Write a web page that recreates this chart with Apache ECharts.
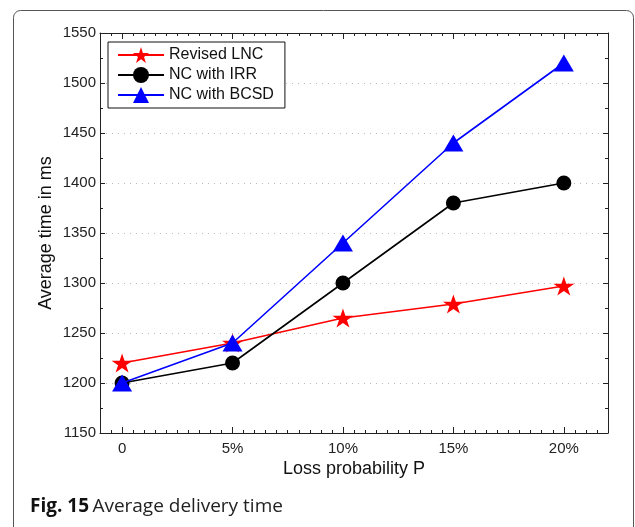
<!DOCTYPE html>
<html>
<head>
<meta charset="utf-8">
<script src="https://cdn.jsdelivr.net/npm/echarts@6/dist/echarts.min.js"></script>
<style>html,body{margin:0;padding:0;background:#fff;}#c{width:635px;height:527px;}</style>
</head>
<body>
<div id="c"></div>
<script>
const xValues = [0, 5, 10, 15, 20];
const xTickLabels = ['0', '5%', '10%', '15%', '20%'];
const seriesNames = ['Revised LNC', 'NC with IRR', 'NC with BCSD'];
const revisedLNC = [1220, 1240, 1265, 1279, 1297];
const ncIRR = [1200, 1220, 1300, 1380, 1400];
const ncBCSD = [1200, 1240, 1340, 1440, 1520];

const starPath = 'path://M100 0 L122.45 69.1 L195.1 69.1 L136.3 111.8 L158.8 180.9 L100 138.2 L41.2 180.9 L63.7 111.8 L4.9 69.1 L77.55 69.1 Z';
const font = 'Liberation Sans, Helvetica, Arial, sans-serif';
const axisColor = '#222';

function pairs(vals) { return xValues.map((x, i) => [x, vals[i]]); }
function labelFor(v) { const i = xValues.indexOf(v); return i >= 0 ? xTickLabels[i] : ''; }

const chart = echarts.init(document.getElementById('c'), null, { renderer: 'canvas' });
const baseX = {
  type: 'value', min: -1, max: 22, gridIndex: 0,
  splitLine: { show: false },
  axisLine: { show: true, onZero: false, lineStyle: { color: axisColor, width: 1 } }
};
const option = {
  backgroundColor: '#fff',
  animation: false,
  grid: { left: 100, right: 27, top: 33, bottom: 94, containLabel: false },
  legend: {
    orient: 'vertical', left: 108, top: 42,
    data: seriesNames,
    itemWidth: 46, itemHeight: 20, itemGap: 4,
    padding: [5, 11, 5, 9],
    borderColor: '#111', borderWidth: 1, backgroundColor: '#fff',
    textStyle: { fontFamily: font, fontSize: 16, color: '#111' }
  },
  xAxis: [
    Object.assign({}, baseX, {
      position: 'bottom', interval: 0.5,
      axisTick: { show: true, inside: true, length: 3, lineStyle: { color: axisColor } },
      axisLabel: { show: true, formatter: v => labelFor(v), fontFamily: font, fontSize: 15, color: '#222', margin: 8 },
      name: 'Loss probability P', nameLocation: 'middle', nameGap: 27, nameMoveOverlap: false,
      nameTextStyle: { fontFamily: font, fontSize: 18, color: '#111' }
    }),
    Object.assign({}, baseX, {
      position: 'top', interval: 0.5,
      axisTick: { show: true, inside: true, length: 3, lineStyle: { color: axisColor } },
      axisLabel: { show: false }
    }),
    Object.assign({}, baseX, {
      position: 'bottom', axisLine: { show: false, onZero: false },
      axisTick: { show: true, inside: true, length: 6, customValues: xValues, lineStyle: { color: axisColor } },
      axisLabel: { show: false, customValues: xValues }
    }),
    Object.assign({}, baseX, {
      position: 'top', axisLine: { show: false, onZero: false },
      axisTick: { show: true, inside: true, length: 6, customValues: xValues, lineStyle: { color: axisColor } },
      axisLabel: { show: false, customValues: xValues }
    })
  ],
  yAxis: [
    {
      type: 'value', min: 1150, max: 1550, interval: 50, position: 'left',
      axisLine: { show: true, onZero: false, lineStyle: { color: axisColor } },
      axisTick: { show: true, inside: true, length: 5, lineStyle: { color: axisColor } },
      minorTick: { show: true, splitNumber: 2, length: 3, lineStyle: { color: axisColor } },
      axisLabel: { formatter: v => String(v), fontFamily: font, fontSize: 15, color: '#222', margin: 4 },
      splitLine: { show: true, lineStyle: { color: '#bbb', type: [1, 5], width: 1 } },
      name: 'Average time in ms', nameLocation: 'middle', nameGap: 45, nameMoveOverlap: false,
      nameTextStyle: { fontFamily: font, fontSize: 18, color: '#111' }
    },
    {
      type: 'value', min: 1150, max: 1550, interval: 50, position: 'right',
      axisLine: { show: true, onZero: false, lineStyle: { color: axisColor } },
      axisTick: { show: true, inside: true, length: 5, lineStyle: { color: axisColor } },
      minorTick: { show: true, splitNumber: 2, length: 3, lineStyle: { color: axisColor } },
      axisLabel: { show: false },
      splitLine: { show: false }
    }
  ],
  series: [
    {
      name: seriesNames[0], type: 'line', data: pairs(revisedLNC),
      symbol: starPath, symbolSize: [21, 20], symbolKeepAspect: true,
      lineStyle: { color: '#ff0000', width: 1.6 },
      itemStyle: { color: '#ff0000', borderWidth: 0 },
      z: 2
    },
    {
      name: seriesNames[1], type: 'line', data: pairs(ncIRR),
      symbol: 'circle', symbolSize: 15,
      lineStyle: { color: '#000', width: 1.6 },
      itemStyle: { color: '#000', borderWidth: 0 },
      z: 3
    },
    {
      name: seriesNames[2], type: 'line', data: pairs(ncBCSD),
      symbol: 'triangle', symbolSize: [20, 17],
      lineStyle: { color: '#0000ff', width: 1.6 },
      itemStyle: { color: '#0000ff', borderWidth: 0 },
      z: 4
    }
  ],
  graphic: [
    {
      type: 'rect', silent: true, z: 100,
      shape: { x: 13.5, y: 10.5, width: 620, height: 620, r: 7 },
      style: { fill: 'none', stroke: '#555', lineWidth: 1 }
    },
    {
      type: 'text', left: 30, top: 497, z: 100,
      style: {
        text: '{b|Fig. 15} {r|Average delivery time}',
        rich: {
          b: { fontFamily: 'Open Sans, Noto Sans, sans-serif', fontWeight: 'bold', fontSize: 19, fill: '#111' },
          r: { fontFamily: 'Open Sans, Noto Sans, sans-serif', fontSize: 19, fill: '#222' }
        }
      }
    }
  ]
};
chart.setOption(option);
</script>
</body>
</html>
